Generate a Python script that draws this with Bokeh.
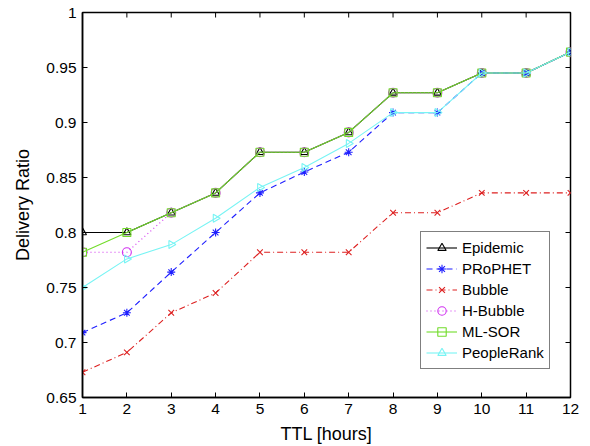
import math
from bokeh.plotting import figure
from bokeh.models import Range1d, FixedTicker, Legend
from bokeh.embed import file_html
from bokeh.resources import INLINE

ttl = [1, 2, 3, 4, 5, 6, 7, 8, 9, 10, 11, 12]
epidemic   = [0.800, 0.800, 0.818, 0.836, 0.873, 0.873, 0.891, 0.927, 0.927, 0.945, 0.945, 0.964]
prophet    = [0.709, 0.727, 0.764, 0.800, 0.836, 0.855, 0.873, 0.909, 0.909, 0.945, 0.945, 0.964]
bubble     = [0.673, 0.691, 0.727, 0.745, 0.782, 0.782, 0.782, 0.818, 0.818, 0.836, 0.836, 0.836]
h_bubble   = [0.782, 0.782, 0.818, 0.836, 0.873, 0.873, 0.891, 0.927, 0.927, 0.945, 0.945, 0.964]
ml_sor     = [0.782, 0.800, 0.818, 0.836, 0.873, 0.873, 0.891, 0.927, 0.927, 0.945, 0.945, 0.964]
peoplerank = [0.750, 0.776, 0.789, 0.813, 0.841, 0.859, 0.881, 0.909, 0.909, 0.945, 0.945, 0.964]

y_ticks = [0.65, 0.7, 0.75, 0.8, 0.85, 0.9, 0.95, 1.0]
y_tick_labels = ["0.65", "0.7", "0.75", "0.8", "0.85", "0.9", "0.95", "1"]

FONT = "Liberation Sans"
X_MIN, X_MAX = 1, 12
Y_MIN, Y_MAX = 0.65, 1.0

p = figure(width=590, height=446, output_backend="svg", toolbar_location=None,
           x_range=Range1d(X_MIN, X_MAX), y_range=Range1d(Y_MIN, Y_MAX),
           min_border_left=82, min_border_right=20, min_border_top=12, min_border_bottom=49)
p.background_fill_color = "white"
p.border_fill_color = "white"
p.outline_line_color = "black"
p.outline_line_width = 1.5
p.xgrid.visible = False
p.ygrid.visible = False

xax = p.xaxis[0]
yax = p.yaxis[0]
xax.ticker = FixedTicker(ticks=ttl)
yax.ticker = FixedTicker(ticks=y_ticks)
yax.major_label_overrides = {t: l for t, l in zip(y_ticks, y_tick_labels)}
for ax in (xax, yax):
    ax.axis_line_color = "black"
    ax.axis_line_width = 1.5
    ax.major_tick_in = 5
    ax.major_tick_out = 0
    ax.minor_tick_line_color = None
    ax.major_tick_line_color = "black"
    ax.major_tick_line_width = 1
    ax.major_label_text_font = FONT
    ax.major_label_text_font_size = "15.5px"
    ax.major_label_text_color = "black"
    ax.major_label_standoff = 6
    ax.axis_label_text_font = FONT
    ax.axis_label_text_font_size = "18px"
    ax.axis_label_text_font_style = "normal"
    ax.axis_label_text_color = "black"
xax.axis_label = "TTL [hours]"
yax.axis_label = "Delivery Ratio"
xax.axis_label_standoff = 7
yax.axis_label_standoff = 10

# inward ticks on the top and right edges of the box (half of each dash is clipped by the frame)
p.scatter(x=ttl, y=[Y_MAX] * len(ttl), marker="dash", size=10, angle=math.pi / 2,
          line_color="black", line_width=1)
p.scatter(x=[X_MAX] * len(y_ticks), y=y_ticks, marker="dash", size=10,
          line_color="black", line_width=1)

series = [
    ("Epidemic", epidemic, "black", "solid", "triangle", 0.0, False),
    ("PRoPHET", prophet, "#1f1fff", "6 4", "asterisk", 0.0, True),
    ("Bubble", bubble, "#dd2020", "6 3 1 3", "x", 0.0, True),
    ("H-Bubble", h_bubble, "#d030f0", "1 3", "circle", 0.0, False),
    ("ML-SOR", ml_sor, "#72dc2a", "solid", "square", 0.0, False),
    ("PeopleRank", peoplerank, "#78f4f4", "solid", "triangle", -math.pi / 2, False),
]

items = []
for name, ys, color, dash, marker, ang, filled in series:
    r1 = p.line(ttl, ys, line_color=color, line_width=1.1, line_dash=dash)
    r2 = p.scatter(x=ttl, y=ys, marker=marker, size=8 if marker != "circle" else 9,
                   angle=ang, line_color=color, line_width=1.1,
                   fill_color=color if filled else None)
    items.append((name, [r1, r2]))

legend = Legend(items=items, location=(338, 28))
legend.label_text_font = FONT
legend.label_text_font_size = "15px"
legend.label_text_color = "black"
legend.border_line_color = "black"
legend.border_line_width = 1.2
legend.background_fill_color = "white"
legend.background_fill_alpha = 1
legend.padding = 5
legend.spacing = 0
legend.margin = 0
legend.label_height = 21
legend.glyph_height = 21
legend.glyph_width = 31
legend.label_standoff = 5
p.add_layout(legend, "center")

open("out.html", "w").write(file_html(p, INLINE))
